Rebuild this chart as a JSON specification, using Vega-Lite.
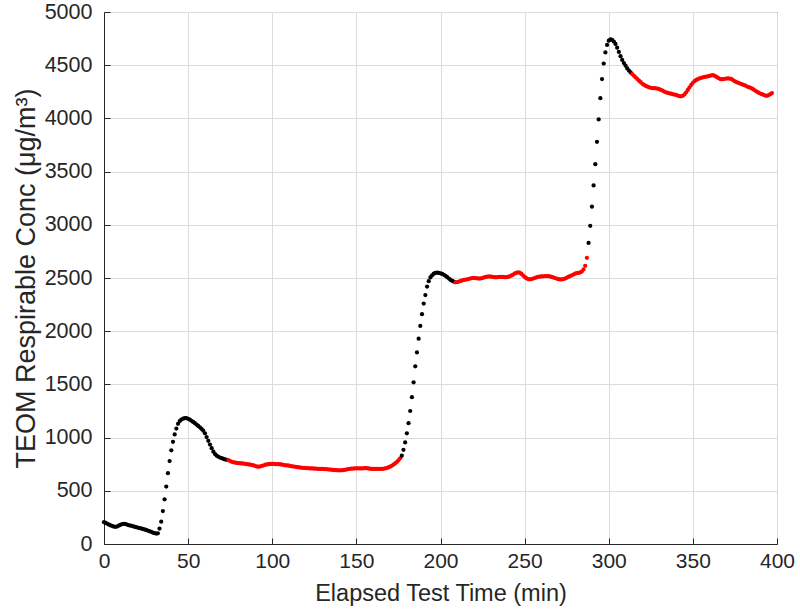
{
"$schema":"https://vega.github.io/schema/vega-lite/v6.json",
"autosize":{"type":"none"},
"padding":{"left":104,"top":12,"right":23,"bottom":67},
"width":673,"height":532,
"background":"white",
"config":{"view":{"stroke":"#262626","strokeWidth":1},"font":"Liberation Sans"},
"data":{"values":[
{"t":0,"v":205,"c":"k"},{"t":1,"v":198,"c":"k"},{"t":2,"v":190,"c":"k"},{"t":3,"v":182,"c":"k"},{"t":4,"v":175,"c":"k"},{"t":5,"v":168,"c":"k"},{"t":6,"v":163,"c":"k"},{"t":7,"v":162,"c":"k"},{"t":8,"v":166,"c":"k"},{"t":9,"v":174,"c":"k"},{"t":10,"v":182,"c":"k"},{"t":11,"v":188,"c":"k"},{"t":12,"v":190,"c":"k"},{"t":13,"v":186,"c":"k"},{"t":14,"v":180,"c":"k"},{"t":15,"v":176,"c":"k"},{"t":16,"v":172,"c":"k"},{"t":17,"v":168,"c":"k"},{"t":18,"v":163,"c":"k"},{"t":19,"v":158,"c":"k"},{"t":20,"v":154,"c":"k"},{"t":21,"v":150,"c":"k"},{"t":22,"v":146,"c":"k"},{"t":23,"v":142,"c":"k"},{"t":24,"v":137,"c":"k"},{"t":25,"v":132,"c":"k"},{"t":26,"v":126,"c":"k"},{"t":27,"v":120,"c":"k"},{"t":28,"v":114,"c":"k"},{"t":29,"v":108,"c":"k"},{"t":30,"v":103,"c":"k"},{"t":31,"v":98,"c":"k"},{"t":32,"v":100,"c":"k"},
{"t":33,"v":145,"c":"k"},{"t":34,"v":210,"c":"k"},{"t":35,"v":310,"c":"k"},{"t":36,"v":420,"c":"k"},{"t":37,"v":540,"c":"k"},{"t":38,"v":665,"c":"k"},{"t":39,"v":780,"c":"k"},{"t":40,"v":880,"c":"k"},{"t":41,"v":960,"c":"k"},{"t":42,"v":1030,"c":"k"},{"t":43,"v":1085,"c":"k"},{"t":44,"v":1130,"c":"k"},{"t":45,"v":1155,"c":"k"},{"t":46,"v":1170,"c":"k"},{"t":47,"v":1178,"c":"k"},{"t":48,"v":1182,"c":"k"},{"t":49,"v":1182,"c":"k"},{"t":50,"v":1177,"c":"k"},{"t":51,"v":1168,"c":"k"},{"t":52,"v":1158,"c":"k"},{"t":53,"v":1147,"c":"k"},{"t":54,"v":1135,"c":"k"},{"t":55,"v":1122,"c":"k"},{"t":56,"v":1110,"c":"k"},{"t":57,"v":1097,"c":"k"},{"t":58,"v":1082,"c":"k"},{"t":59,"v":1065,"c":"k"},{"t":60,"v":1040,"c":"k"},{"t":61,"v":1005,"c":"k"},{"t":62,"v":970,"c":"k"},{"t":63,"v":935,"c":"k"},{"t":64,"v":900,"c":"k"},{"t":65,"v":868,"c":"k"},{"t":66,"v":845,"c":"k"},{"t":67,"v":830,"c":"k"},{"t":68,"v":820,"c":"k"},{"t":69,"v":812,"c":"k"},{"t":70,"v":806,"c":"k"},{"t":71,"v":800,"c":"k"},{"t":72,"v":795,"c":"k"},{"t":73,"v":791,"c":"k"},
{"t":74,"v":788,"c":"r"},{"t":75,"v":780,"c":"r"},{"t":76,"v":772,"c":"r"},{"t":77,"v":768,"c":"r"},{"t":78,"v":765,"c":"r"},{"t":79,"v":762,"c":"r"},{"t":80,"v":760,"c":"r"},{"t":81,"v":758,"c":"r"},{"t":82,"v":757,"c":"r"},{"t":83,"v":755,"c":"r"},{"t":84,"v":752,"c":"r"},{"t":85,"v":750,"c":"r"},{"t":86,"v":748,"c":"r"},{"t":87,"v":745,"c":"r"},{"t":88,"v":742,"c":"r"},{"t":89,"v":738,"c":"r"},{"t":90,"v":733,"c":"r"},{"t":91,"v":728,"c":"r"},{"t":92,"v":727,"c":"r"},{"t":93,"v":730,"c":"r"},{"t":94,"v":735,"c":"r"},{"t":95,"v":740,"c":"r"},{"t":96,"v":745,"c":"r"},{"t":97,"v":748,"c":"r"},{"t":98,"v":750,"c":"r"},{"t":99,"v":752,"c":"r"},{"t":100,"v":752,"c":"r"},{"t":101,"v":752,"c":"r"},{"t":102,"v":750,"c":"r"},{"t":103,"v":750,"c":"r"},{"t":104,"v":750,"c":"r"},{"t":105,"v":748,"c":"r"},{"t":106,"v":745,"c":"r"},{"t":107,"v":742,"c":"r"},{"t":108,"v":740,"c":"r"},{"t":109,"v":738,"c":"r"},{"t":110,"v":736,"c":"r"},{"t":111,"v":733,"c":"r"},{"t":112,"v":730,"c":"r"},{"t":113,"v":728,"c":"r"},{"t":114,"v":725,"c":"r"},{"t":115,"v":722,"c":"r"},{"t":116,"v":720,"c":"r"},{"t":117,"v":718,"c":"r"},{"t":118,"v":716,"c":"r"},{"t":119,"v":715,"c":"r"},{"t":120,"v":714,"c":"r"},{"t":121,"v":712,"c":"r"},{"t":122,"v":711,"c":"r"},{"t":123,"v":710,"c":"r"},{"t":124,"v":710,"c":"r"},{"t":125,"v":709,"c":"r"},{"t":126,"v":708,"c":"r"},{"t":127,"v":707,"c":"r"},{"t":128,"v":706,"c":"r"},{"t":129,"v":705,"c":"r"},{"t":130,"v":705,"c":"r"},{"t":131,"v":704,"c":"r"},{"t":132,"v":703,"c":"r"},{"t":133,"v":702,"c":"r"},{"t":134,"v":700,"c":"r"},{"t":135,"v":698,"c":"r"},{"t":136,"v":696,"c":"r"},{"t":137,"v":695,"c":"r"},{"t":138,"v":694,"c":"r"},{"t":139,"v":693,"c":"r"},{"t":140,"v":692,"c":"r"},{"t":141,"v":692,"c":"r"},{"t":142,"v":694,"c":"r"},{"t":143,"v":697,"c":"r"},{"t":144,"v":700,"c":"r"},{"t":145,"v":703,"c":"r"},{"t":146,"v":706,"c":"r"},{"t":147,"v":708,"c":"r"},{"t":148,"v":709,"c":"r"},{"t":149,"v":710,"c":"r"},{"t":150,"v":711,"c":"r"},{"t":151,"v":711,"c":"r"},{"t":152,"v":710,"c":"r"},{"t":153,"v":710,"c":"r"},{"t":154,"v":711,"c":"r"},{"t":155,"v":712,"c":"r"},{"t":156,"v":712,"c":"r"},{"t":157,"v":710,"c":"r"},{"t":158,"v":708,"c":"r"},{"t":159,"v":706,"c":"r"},{"t":160,"v":705,"c":"r"},{"t":161,"v":705,"c":"r"},{"t":162,"v":706,"c":"r"},{"t":163,"v":706,"c":"r"},{"t":164,"v":705,"c":"r"},{"t":165,"v":705,"c":"r"},{"t":166,"v":707,"c":"r"},{"t":167,"v":710,"c":"r"},{"t":168,"v":714,"c":"r"},{"t":169,"v":720,"c":"r"},{"t":170,"v":727,"c":"r"},{"t":171,"v":735,"c":"r"},{"t":172,"v":745,"c":"r"},{"t":173,"v":757,"c":"r"},{"t":174,"v":770,"c":"r"},{"t":175,"v":787,"c":"r"},{"t":176,"v":805,"c":"r"},
{"t":177,"v":830,"c":"k"},{"t":178,"v":885,"c":"k"},{"t":179,"v":955,"c":"k"},{"t":180,"v":1040,"c":"k"},{"t":181,"v":1135,"c":"k"},{"t":182,"v":1250,"c":"k"},{"t":183,"v":1380,"c":"k"},{"t":184,"v":1520,"c":"k"},{"t":185,"v":1670,"c":"k"},{"t":186,"v":1800,"c":"k"},{"t":187,"v":1930,"c":"k"},{"t":188,"v":2050,"c":"k"},{"t":189,"v":2160,"c":"k"},{"t":190,"v":2260,"c":"k"},{"t":191,"v":2340,"c":"k"},{"t":192,"v":2420,"c":"k"},{"t":193,"v":2470,"c":"k"},{"t":194,"v":2505,"c":"k"},{"t":195,"v":2525,"c":"k"},{"t":196,"v":2540,"c":"k"},{"t":197,"v":2548,"c":"k"},{"t":198,"v":2550,"c":"k"},{"t":199,"v":2548,"c":"k"},{"t":200,"v":2544,"c":"k"},{"t":201,"v":2538,"c":"k"},{"t":202,"v":2530,"c":"k"},{"t":203,"v":2520,"c":"k"},{"t":204,"v":2508,"c":"k"},{"t":205,"v":2495,"c":"k"},{"t":206,"v":2482,"c":"k"},{"t":207,"v":2472,"c":"k"},{"t":208,"v":2465,"c":"k"},
{"t":209,"v":2460,"c":"r"},{"t":210,"v":2462,"c":"r"},{"t":211,"v":2466,"c":"r"},{"t":212,"v":2472,"c":"r"},{"t":213,"v":2478,"c":"r"},{"t":214,"v":2482,"c":"r"},{"t":215,"v":2485,"c":"r"},{"t":216,"v":2488,"c":"r"},{"t":217,"v":2492,"c":"r"},{"t":218,"v":2497,"c":"r"},{"t":219,"v":2500,"c":"r"},{"t":220,"v":2500,"c":"r"},{"t":221,"v":2498,"c":"r"},{"t":222,"v":2496,"c":"r"},{"t":223,"v":2495,"c":"r"},{"t":224,"v":2496,"c":"r"},{"t":225,"v":2500,"c":"r"},{"t":226,"v":2505,"c":"r"},{"t":227,"v":2510,"c":"r"},{"t":228,"v":2513,"c":"r"},{"t":229,"v":2515,"c":"r"},{"t":230,"v":2513,"c":"r"},{"t":231,"v":2510,"c":"r"},{"t":232,"v":2508,"c":"r"},{"t":233,"v":2507,"c":"r"},{"t":234,"v":2508,"c":"r"},{"t":235,"v":2510,"c":"r"},{"t":236,"v":2510,"c":"r"},{"t":237,"v":2510,"c":"r"},{"t":238,"v":2508,"c":"r"},{"t":239,"v":2508,"c":"r"},{"t":240,"v":2510,"c":"r"},{"t":241,"v":2515,"c":"r"},{"t":242,"v":2522,"c":"r"},{"t":243,"v":2530,"c":"r"},{"t":244,"v":2540,"c":"r"},{"t":245,"v":2548,"c":"r"},{"t":246,"v":2552,"c":"r"},{"t":247,"v":2550,"c":"r"},{"t":248,"v":2540,"c":"r"},{"t":249,"v":2525,"c":"r"},{"t":250,"v":2510,"c":"r"},{"t":251,"v":2498,"c":"r"},{"t":252,"v":2490,"c":"r"},{"t":253,"v":2488,"c":"r"},{"t":254,"v":2490,"c":"r"},{"t":255,"v":2495,"c":"r"},{"t":256,"v":2500,"c":"r"},{"t":257,"v":2505,"c":"r"},{"t":258,"v":2510,"c":"r"},{"t":259,"v":2513,"c":"r"},{"t":260,"v":2515,"c":"r"},{"t":261,"v":2516,"c":"r"},{"t":262,"v":2517,"c":"r"},{"t":263,"v":2518,"c":"r"},{"t":264,"v":2518,"c":"r"},{"t":265,"v":2515,"c":"r"},{"t":266,"v":2510,"c":"r"},{"t":267,"v":2505,"c":"r"},{"t":268,"v":2500,"c":"r"},{"t":269,"v":2495,"c":"r"},{"t":270,"v":2490,"c":"r"},{"t":271,"v":2487,"c":"r"},{"t":272,"v":2487,"c":"r"},{"t":273,"v":2490,"c":"r"},{"t":274,"v":2495,"c":"r"},{"t":275,"v":2502,"c":"r"},{"t":276,"v":2510,"c":"r"},{"t":277,"v":2518,"c":"r"},{"t":278,"v":2525,"c":"r"},{"t":279,"v":2532,"c":"r"},{"t":280,"v":2540,"c":"r"},{"t":281,"v":2545,"c":"r"},{"t":282,"v":2548,"c":"r"},{"t":283,"v":2552,"c":"r"},{"t":284,"v":2560,"c":"r"},{"t":285,"v":2580,"c":"r"},{"t":286,"v":2615,"c":"r"},{"t":287,"v":2690,"c":"r"},
{"t":288,"v":2830,"c":"k"},{"t":289,"v":2990,"c":"k"},{"t":290,"v":3170,"c":"k"},{"t":291,"v":3370,"c":"k"},{"t":292,"v":3570,"c":"k"},{"t":293,"v":3780,"c":"k"},{"t":294,"v":3990,"c":"k"},{"t":295,"v":4190,"c":"k"},{"t":296,"v":4370,"c":"k"},{"t":297,"v":4515,"c":"k"},{"t":298,"v":4620,"c":"k"},{"t":299,"v":4690,"c":"k"},{"t":300,"v":4730,"c":"k"},{"t":301,"v":4742,"c":"k"},{"t":302,"v":4738,"c":"k"},{"t":303,"v":4722,"c":"k"},{"t":304,"v":4700,"c":"k"},{"t":305,"v":4665,"c":"k"},{"t":306,"v":4625,"c":"k"},{"t":307,"v":4585,"c":"k"},{"t":308,"v":4550,"c":"k"},{"t":309,"v":4520,"c":"k"},{"t":310,"v":4495,"c":"k"},{"t":311,"v":4470,"c":"k"},{"t":312,"v":4450,"c":"k"},{"t":313,"v":4432,"c":"k"},
{"t":314,"v":4415,"c":"r"},{"t":315,"v":4400,"c":"r"},{"t":316,"v":4385,"c":"r"},{"t":317,"v":4370,"c":"r"},{"t":318,"v":4355,"c":"r"},{"t":319,"v":4340,"c":"r"},{"t":320,"v":4325,"c":"r"},{"t":321,"v":4315,"c":"r"},{"t":322,"v":4305,"c":"r"},{"t":323,"v":4298,"c":"r"},{"t":324,"v":4292,"c":"r"},{"t":325,"v":4288,"c":"r"},{"t":326,"v":4285,"c":"r"},{"t":327,"v":4284,"c":"r"},{"t":328,"v":4283,"c":"r"},{"t":329,"v":4280,"c":"r"},{"t":330,"v":4275,"c":"r"},{"t":331,"v":4268,"c":"r"},{"t":332,"v":4260,"c":"r"},{"t":333,"v":4252,"c":"r"},{"t":334,"v":4245,"c":"r"},{"t":335,"v":4240,"c":"r"},{"t":336,"v":4236,"c":"r"},{"t":337,"v":4232,"c":"r"},{"t":338,"v":4228,"c":"r"},{"t":339,"v":4224,"c":"r"},{"t":340,"v":4220,"c":"r"},{"t":341,"v":4215,"c":"r"},{"t":342,"v":4210,"c":"r"},{"t":343,"v":4208,"c":"r"},{"t":344,"v":4212,"c":"r"},{"t":345,"v":4225,"c":"r"},{"t":346,"v":4245,"c":"r"},{"t":347,"v":4268,"c":"r"},{"t":348,"v":4292,"c":"r"},{"t":349,"v":4315,"c":"r"},{"t":350,"v":4335,"c":"r"},{"t":351,"v":4350,"c":"r"},{"t":352,"v":4362,"c":"r"},{"t":353,"v":4370,"c":"r"},{"t":354,"v":4377,"c":"r"},{"t":355,"v":4382,"c":"r"},{"t":356,"v":4386,"c":"r"},{"t":357,"v":4390,"c":"r"},{"t":358,"v":4393,"c":"r"},{"t":359,"v":4396,"c":"r"},{"t":360,"v":4400,"c":"r"},{"t":361,"v":4404,"c":"r"},{"t":362,"v":4406,"c":"r"},{"t":363,"v":4400,"c":"r"},{"t":364,"v":4390,"c":"r"},{"t":365,"v":4380,"c":"r"},{"t":366,"v":4372,"c":"r"},{"t":367,"v":4367,"c":"r"},{"t":368,"v":4368,"c":"r"},{"t":369,"v":4372,"c":"r"},{"t":370,"v":4375,"c":"r"},{"t":371,"v":4376,"c":"r"},{"t":372,"v":4374,"c":"r"},{"t":373,"v":4368,"c":"r"},{"t":374,"v":4358,"c":"r"},{"t":375,"v":4348,"c":"r"},{"t":376,"v":4340,"c":"r"},{"t":377,"v":4334,"c":"r"},{"t":378,"v":4328,"c":"r"},{"t":379,"v":4322,"c":"r"},{"t":380,"v":4316,"c":"r"},{"t":381,"v":4310,"c":"r"},{"t":382,"v":4302,"c":"r"},{"t":383,"v":4295,"c":"r"},{"t":384,"v":4290,"c":"r"},{"t":385,"v":4282,"c":"r"},{"t":386,"v":4272,"c":"r"},{"t":387,"v":4262,"c":"r"},{"t":388,"v":4252,"c":"r"},{"t":389,"v":4242,"c":"r"},{"t":390,"v":4234,"c":"r"},{"t":391,"v":4228,"c":"r"},{"t":392,"v":4222,"c":"r"},{"t":393,"v":4215,"c":"r"},{"t":394,"v":4212,"c":"r"},{"t":395,"v":4218,"c":"r"},{"t":396,"v":4228,"c":"r"},{"t":397,"v":4238,"c":"r"}
]},
"mark":{"type":"circle","size":18,"opacity":1},
"encoding":{
"x":{"field":"t","type":"quantitative","scale":{"domain":[0,400],"nice":false},
"axis":{"title":"Elapsed Test Time (min)","values":[0,50,100,150,200,250,300,350,400],"format":"d","grid":true,"gridColor":"#dcdcdc","gridWidth":1,"domainColor":"#262626","tickColor":"#262626","tickSize":-6,"labelPadding":12,"labelFontSize":21,"labelColor":"#262626","labelFont":"Liberation Sans","titleFont":"Liberation Sans","titleFontSize":23.5,"titleFontWeight":"normal","titleColor":"#262626","titlePadding":10,"labelFlush":false}},
"y":{"field":"v","type":"quantitative","scale":{"domain":[0,5000],"nice":false},
"axis":{"title":"TEOM Respirable Conc (μg/m³)","values":[0,500,1000,1500,2000,2500,3000,3500,4000,4500,5000],"format":"d","grid":true,"gridColor":"#dcdcdc","gridWidth":1,"domainColor":"#262626","tickColor":"#262626","tickSize":-6,"labelPadding":18,"labelFontSize":21.5,"labelColor":"#262626","labelFont":"Liberation Sans","titleFont":"Liberation Sans","titleFontSize":27,"titleFontWeight":"normal","titleColor":"#262626","titlePadding":4,"labelFlush":false}},
"color":{"field":"c","type":"nominal","scale":{"domain":["k","r"],"range":["#000000","#ff0000"]},"legend":null}
}
}
